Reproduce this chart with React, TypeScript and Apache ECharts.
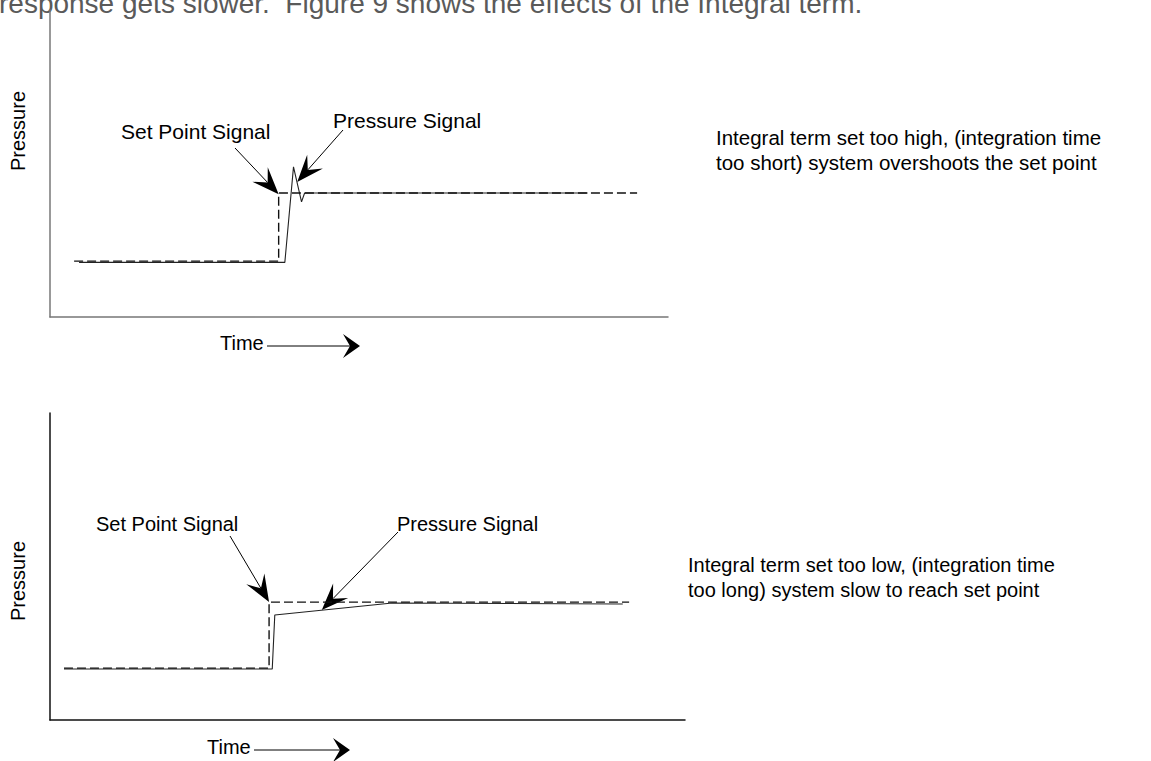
import React, { useEffect, useRef } from "react";
import * as echarts from "echarts";

// ---- data (time units 0-100, pressure units 0-100) ----
const topSetPointTime = [3.9, 37.0, 37.0, 95.0];
const topSetPointPressure = [18.2, 18.2, 40.4, 40.4];
const topPressureTime = [4.7, 38.0, 39.4, 40.7, 41.2, 87.0];
const topPressureValue = [17.8, 17.8, 48.9, 37.5, 40.4, 40.4];

const bottomSetPointTime = [2.2, 34.5, 34.5, 91.2];
const bottomSetPointPressure = [16.9, 16.9, 38.4, 38.4];
const bottomPressureTime = [2.2, 35.0, 35.4, 53.9, 90.2];
const bottomPressureValue = [16.6, 16.6, 34.2, 38.1, 37.8];

// arrow targets (data coords) for annotations
const topSetTip = [37.0, 40.0];
const topPressureTip = [40.0, 44.0];
const bottomSetTip = [34.5, 38.4];
const bottomPressureTip = [42.8, 35.8];

// ---- texts ----
const headerText = "response gets slower.  Figure 9 shows the effects of the Integral term.";
const setPointLabel = "Set Point Signal";
const pressureLabel = "Pressure Signal";
const yName = "Pressure";
const xName = "Time";
const topNote = "Integral term set too high, (integration time\ntoo short) system overshoots the set point";
const bottomNote = "Integral term set too low, (integration time\ntoo long) system slow to reach set point";

const FONT = '"Liberation Sans", Arial, sans-serif';

function zip(a: number[], b: number[]) {
  return a.map((v, i) => [v, b[i]]);
}

export default function App() {
  const ref = useRef<HTMLDivElement>(null);
  useEffect(() => {
    document.body.style.margin = "0";
    const chart = echarts.init(ref.current!, null, { renderer: "svg" });
    const xAx = (gi: number, color: string) => ({
      type: "value", gridIndex: gi, min: 0, max: 100,
      axisLine: { show: true, onZero: false, lineStyle: { color, width: 1.5 } },
      axisTick: { show: false }, axisLabel: { show: false }, splitLine: { show: false },
    });
    const yAx = (gi: number, color: string) => ({
      type: "value", gridIndex: gi, min: 0, max: 100,
      axisLine: { show: true, onZero: false, lineStyle: { color, width: 1.5 } },
      axisTick: { show: false }, axisLabel: { show: false }, splitLine: { show: false },
    });
    const line = (gi: number, data: number[][], dashed: boolean) => ({
      type: "line", xAxisIndex: gi, yAxisIndex: gi, data,
      symbol: "none", silent: true,
      lineStyle: { color: dashed ? "#111" : "#222", width: dashed ? 1.4 : 1.1, type: dashed ? [9, 4] : "solid" },
    });
    chart.setOption({
      animation: false,
      grid: [
        { left: 50, top: 10, width: 618, height: 307 },
        { left: 50, top: 413, width: 635, height: 307 },
      ],
      xAxis: [xAx(0, "#777"), xAx(1, "#111")],
      yAxis: [yAx(0, "#777"), yAx(1, "#111")],
      series: [
        line(0, zip(topPressureTime, topPressureValue), false),
        line(0, zip(topSetPointTime, topSetPointPressure), true),
        line(1, zip(bottomPressureTime, bottomPressureValue), false),
        line(1, zip(bottomSetPointTime, bottomSetPointPressure), true),
      ],
    });

    const px = (gi: number, p: number[]) => chart.convertToPixel({ gridIndex: gi } as any, p) as number[];
    const arrow = (tail: number[], tip: number[]) => {
      const dx = tip[0] - tail[0], dy = tip[1] - tail[1];
      const len = Math.hypot(dx, dy);
      const ux = dx / len, uy = dy / len;
      const nx = -uy, ny = ux;
      const L = 27, W = 10.5, N = 16;
      return [
        { type: "line", shape: { x1: tail[0], y1: tail[1], x2: tip[0] - ux * N, y2: tip[1] - uy * N }, style: { stroke: "#000", lineWidth: 1 } },
        {
          type: "polygon",
          shape: {
            points: [
              [tip[0], tip[1]],
              [tip[0] - ux * L + nx * W, tip[1] - uy * L + ny * W],
              [tip[0] - ux * N, tip[1] - uy * N],
              [tip[0] - ux * L - nx * W, tip[1] - uy * L - ny * W],
            ],
          },
          style: { fill: "#000" },
        },
      ];
    };
    const txt = (x: number, y: number, text: string, extra: any = {}) => ({
      type: "text", x, y,
      style: { text, fill: "#000", font: `20px ${FONT}`, verticalAlign: "middle", align: "left", lineHeight: 25, ...extra },
    });
    const timeArrow = (x: number, y: number, lineEnd: number) => [
      txt(x, y, xName),
      { type: "line", shape: { x1: x + 47, y1: y + 3, x2: lineEnd, y2: y + 3 }, style: { stroke: "#000", lineWidth: 1 } },
      {
        type: "polygon",
        shape: { points: [[lineEnd - 10, y - 9], [lineEnd + 7, y + 3], [lineEnd - 10, y + 15], [lineEnd - 3, y + 3]] },
        style: { fill: "#000" },
      },
    ];

    const graphic: any[] = [
      txt(-1, 3, headerText, { fill: "#5a5a5a", font: `28px ${FONT}` }),
      { type: "text", x: 18, y: 131, rotation: Math.PI / 2, style: { text: yName, fill: "#000", font: `20px ${FONT}`, align: "center", verticalAlign: "middle" } },
      { type: "text", x: 18, y: 581, rotation: Math.PI / 2, style: { text: yName, fill: "#000", font: `20px ${FONT}`, align: "center", verticalAlign: "middle" } },
      txt(121, 131, setPointLabel, { font: `21px ${FONT}` }),
      txt(333, 120, pressureLabel, { font: `21px ${FONT}` }),
      txt(96, 524, setPointLabel),
      txt(397, 524, pressureLabel),
      txt(716, 150, topNote, { font: `20.5px ${FONT}` }),
      txt(688, 577, bottomNote),
      ...timeArrow(220, 343, 353),
      ...timeArrow(207, 747, 343),
      ...arrow([235, 148], px(0, topSetTip)),
      ...arrow([343, 130], px(0, topPressureTip)),
      ...arrow([230, 536], px(1, bottomSetTip)),
      ...arrow([398, 532], px(1, bottomPressureTip)),
    ];
    chart.setOption({ graphic });
    return () => chart.dispose();
  }, []);
  return <div ref={ref} style={{ width: 1151, height: 761 }} />;
}
